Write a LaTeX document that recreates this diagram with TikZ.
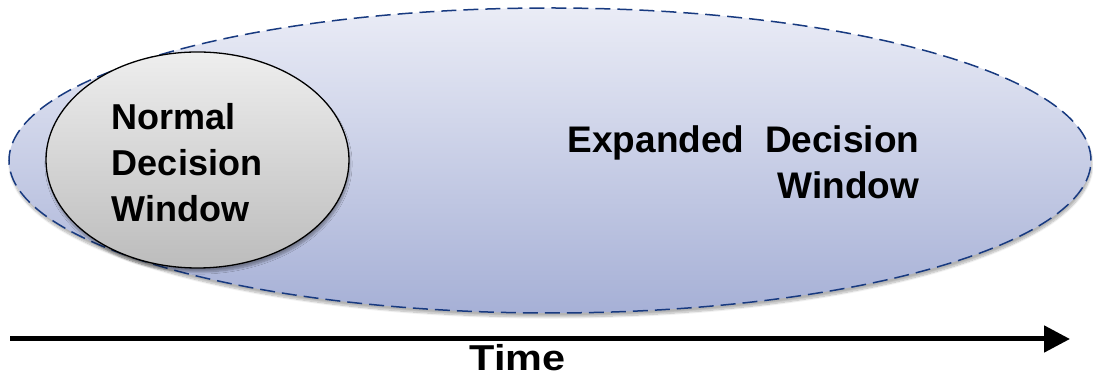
\documentclass[tikz,border=0pt]{standalone}
\usepackage{fontspec}
\setmainfont{Liberation Sans}
\usetikzlibrary{shapes.geometric,arrows.meta,shadows.blur}
\definecolor{exptop}{RGB}{234,236,246}
\definecolor{expbot}{RGB}{166,176,214}
\definecolor{expline}{RGB}{24,58,128}
\definecolor{normtop}{RGB}{238,238,238}
\definecolor{normbot}{RGB}{188,188,188}
\newcommand{\winfont}{\fontsize{36}{46}\selectfont\bfseries}
\newcommand{\expfont}{\fontsize{37}{46}\selectfont\bfseries}

\begin{document}
\begin{tikzpicture}[x=1pt,y=1pt,
    expwin/.style={ellipse,inner sep=0,minimum width=1082,minimum height=305,
        top color=exptop,bottom color=expbot,draw=expline,line width=1.5,
        dash pattern=on 15 off 7,blur shadow={shadow xshift=1,shadow yshift=-4,shadow opacity=30,shadow blur steps=8}},
    normwin/.style={ellipse,inner sep=0,minimum width=303,minimum height=216,
        top color=normtop,bottom color=normbot,draw=black,line width=1.3,
        blur shadow={shadow xshift=1,shadow yshift=-4,shadow opacity=35,shadow blur steps=8}},
    wintext/.style={inner sep=0,font=\winfont}]
  \useasboundingbox (0,0) rectangle (1093,379);
  \node[expwin] (expanded) at (550,218.5) {};
  \node[normwin] (normal) at (197.5,219) {};
  \node[wintext,align=left] (normaltxt) at (187,216) {Normal\\Decision\\Window};
  \node[wintext,font=\expfont,align=right] (expandedtxt) at (743.5,217) {Expanded\ \ Decision\\Window};
  % time axis
  \coordinate (tstart) at (10,40);
  \coordinate (tend) at (1070,40);
  \draw[line width=5,-{Triangle[length=26,width=26]}] (tstart) -- (tend);
  \node[wintext,anchor=base] (time) at (517.5,8) {\scalebox{1.15}[1]{Time}};
\end{tikzpicture}
\end{document}
